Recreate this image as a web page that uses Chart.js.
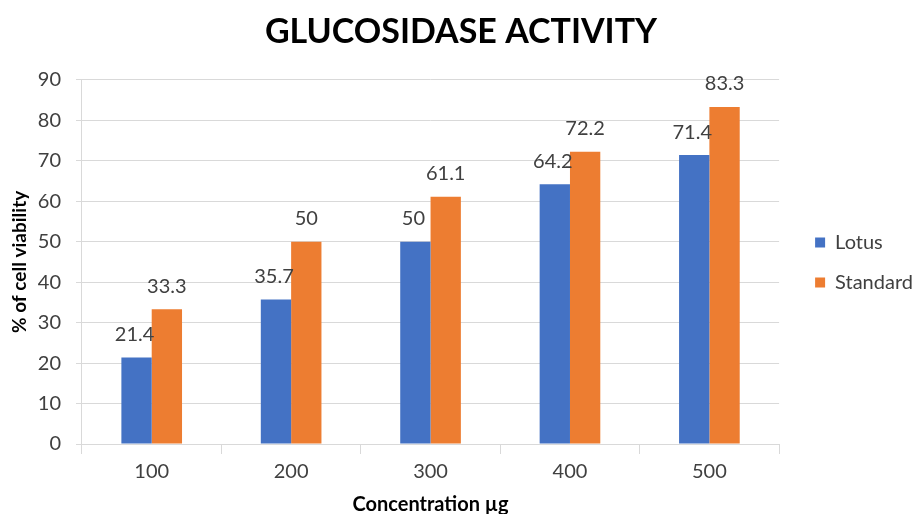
<!DOCTYPE html>
<html>
<head>
<meta charset="utf-8">
<script src="https://cdn.jsdelivr.net/npm/chart.js@4.4.0/dist/chart.umd.min.js"></script>
<style>
  html, body { margin: 0; padding: 0; background: #fff; }
  #wrap { width: 914px; height: 514px; }
</style>
</head>
<body>
<div id="wrap"><canvas id="myChart" width="914" height="514"></canvas></div>
<script>
// datos
const concentrations = ['100', '200', '300', '400', '500'];
const lotusValues = [21.4, 35.7, 50, 64.2, 71.4];
const standardValues = [33.3, 50, 61.1, 72.2, 83.3];
const yTicks = [0, 10, 20, 30, 40, 50, 60, 70, 80, 90];

const textColor = '#404040';
const gridColor = '#d9d9d9';

// etiquetas encima de cada barra
const valueLabels = {
  id: 'valueLabels',
  afterDatasetsDraw(chart) {
    const ctx = chart.ctx;
    ctx.save();
    ctx.font = '20px Lato';
    ctx.fillStyle = textColor;
    ctx.textAlign = 'center';
    ctx.textBaseline = 'bottom';
    chart.data.datasets.forEach((ds, i) => {
      chart.getDatasetMeta(i).data.forEach((bar, j) => {
        ctx.fillText(String(ds.data[j]), bar.x - (i === 0 ? 2 : 0), bar.y - 13);
      });
    });
    ctx.restore();
  }
};

// leyenda un poco mas ancha, separada del area del grafico
const legendGap = {
  id: 'legendGap',
  afterInit(chart) {
    const legend = chart.legend;
    const origFit = legend.fit;
    legend.fit = function() {
      origFit.call(this);
      this.width += 7;
    };
  },
  afterLayout(chart) {
    chart.legend.left += 16;
    chart.legend.right += 16;
  }
};

const ctx = document.getElementById('myChart').getContext('2d');
const myChart = new Chart(ctx, {
  type: 'bar',
  data: {
    labels: concentrations,
    datasets: [{
      label: 'Lotus',
      data: lotusValues,
      backgroundColor: '#4472c4'
    }, {
      label: 'Standard',
      data: standardValues,
      backgroundColor: '#ed7d31'
    }]
  },
  options: {
    responsive: false,
    animation: false,
    layout: { padding: { top: 8, left: 8, right: 0, bottom: -3 } },
    datasets: {
      bar: { categoryPercentage: 0.435, barPercentage: 1.0 }
    },
    plugins: {
      title: {
        display: true,
        text: 'GLUCOSIDASE ACTIVITY',
        font: { family: 'Lato', size: 34, weight: 'bold' },
        color: '#000',
        padding: { top: 4, bottom: 27 }
      },
      legend: {
        position: 'right',
        align: 'center',
        labels: {
          font: { family: 'Lato', size: 20 },
          color: textColor,
          boxWidth: 10,
          boxHeight: 10,
          padding: 20
        }
      },
      tooltip: { enabled: false }
    },
    scales: {
      x: {
        grid: {
          offset: true,
          drawOnChartArea: false,
          drawTicks: true,
          tickLength: 10,
          color: gridColor
        },
        border: { color: gridColor },
        ticks: { font: { family: 'Lato', size: 20 }, color: textColor, padding: 6 },
        title: {
          display: true,
          text: 'Concentration µg',
          font: { family: 'Lato', size: 20, weight: 'bold' },
          color: '#000',
          padding: { top: 3, bottom: 0 }
        }
      },
      y: {
        min: 0,
        max: 90,
        afterBuildTicks(axis) {
          axis.ticks = yTicks.map(v => ({ value: v }));
        },
        grid: { color: gridColor, tickLength: 6 },
        border: { color: gridColor },
        ticks: { font: { family: 'Lato', size: 20 }, color: textColor, padding: 15 },
        title: {
          display: true,
          text: '% of cell viability',
          font: { family: 'Lato', size: 19, weight: 'bold' },
          color: '#000',
          padding: { top: 0, bottom: -8 }
        }
      }
    }
  },
  plugins: [valueLabels, legendGap]
});
</script>
</body>
</html>
